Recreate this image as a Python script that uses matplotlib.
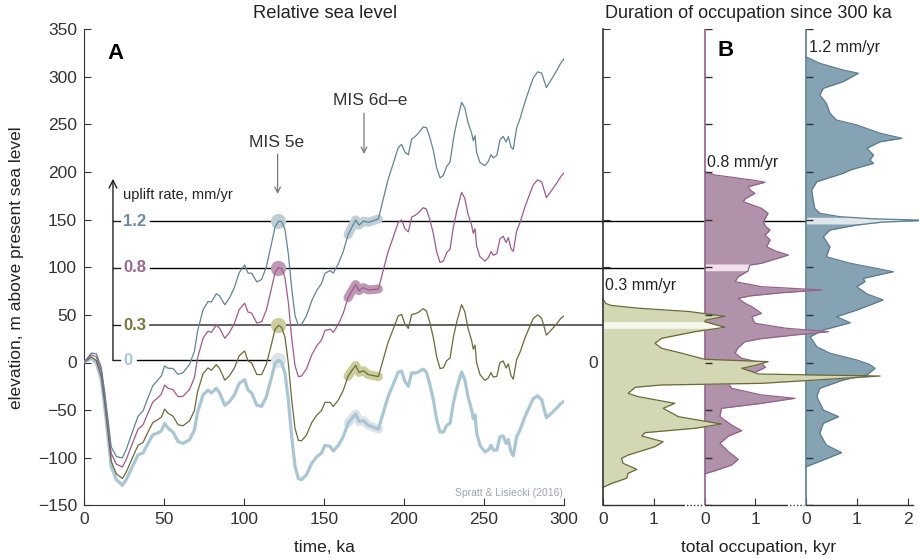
import numpy as np
import matplotlib
matplotlib.use("Agg")
import matplotlib.pyplot as plt

plt.rcParams['font.family'] = ['Liberation Sans', 'DejaVu Sans']

# ---------------- data ----------------
# Base relative sea level (Spratt & Lisiecki 2016), time in ka, elevation in m
sl_time = [0, 2, 4.6, 7.7, 10.8, 12.9, 15, 17, 20.2, 24, 26.4, 30.6, 33.8, 36.9, 40, 43, 46, 48.3,
           50.4, 52.5, 55.6, 58.8, 61.9, 66, 69, 71, 74.4, 77.5, 79.6, 82.7, 84.8, 88, 91, 94, 97,
           100.4, 102.5, 104.8, 108, 111, 114, 117.3, 119.4, 121.5, 123.5, 125.6, 127.7, 129.8,
           131.9, 134, 136, 139, 142.3, 145.4, 148.5, 150.6, 153.8, 155.8, 159, 162, 165, 167.3,
           169.8, 171.9, 174.6, 177.7, 180.8, 184, 187, 190, 193, 196.4, 198.5, 200.6, 202.7,
           204.8, 206.9, 209, 212, 214, 216, 218.3, 220.4, 222.5, 224.6, 226.7, 228.8, 230.8, 233,
           236, 238, 240, 242.3, 243.3, 244.4, 245.4, 247.5, 250.6, 252.7, 254.4, 255.8, 258, 260,
           262, 263.8, 265.2, 266.9, 268.3, 270.4, 272.5, 275.6, 278.8, 280.8, 283.5, 286, 289,
           292.3, 295.4, 298, 300]
sl_elev = [0.5, 2, 4.4, -0.2, -18, -46, -78, -109, -123, -129, -123, -108, -97, -95, -85, -76, -74, -72,
           -64, -69, -73, -83, -85, -81, -71, -52, -34, -29, -32, -27, -32, -45, -41, -34, -22,
           -18, -29, -32, -45, -46, -36, -15, -1, 2.5, 0, -11, -39, -78,
           -109, -122, -123, -118, -106, -99, -95, -87, -88, -93, -87, -78, -64, -59,
           -54, -62, -61, -66, -68, -70, -53, -36, -24, -10, -9, -20, -25,
           -11, -11, -10, -7, -10, -22, -39, -60, -73, -73, -66, -64, -43, -27,
           -10, -18, -36, -50, -59, -55, -74, -87, -94, -92, -87, -92, -92, -78,
           -77, -85, -81, -94, -98, -78, -71, -57, -45, -38, -35, -39, -58,
           -53, -48, -43, -41]

uplift_rates = [0, 0.3, 0.8, 1.2]           # mm/yr
rate_labels = {0: '0', 0.3: '0.3', 0.8: '0.8', 1.2: '1.2'}
mis5e_time = 121.5
mis6_window = (165, 184)

# Occupation profiles (elevation m, total occupation kyr)
occ03_elev = [66, 62, 60, 57, 53.5, 48.5, 44.5, 42.9, 37, 32.4, 25.4, 20.2, 14.9, 9.7, 3.4, 0.9,
              -3, -6.1, -9, -12.1, -14.2, -21.9, -23.6, -26, -32.4, -35.9, -42.9, -48.1, -56.9,
              -64.6, -69.1, -73.7, -77.2, -83.2, -88.4, -97.2, -100.6, -105.9, -112.2, -116.4,
              -121.6, -126.9, -131]
occ03_kyr = [0, 0.05, 0.15, 0.7, 1.7, 2.4, 2.02, 2.0, 2.4, 1.81, 1.15, 1.02, 1.15, 1.55, 2.0, 3.25,
             3.0, 2.73, 2.9, 3.06, 5.46, 3.12, 1.15, 0.63, 0.49, 0.69, 1.41, 1.18, 1.48,
             2.33, 1.81, 0.82, 0.76, 1.18, 1.02, 0.49, 0.36, 0.39, 0.66, 0.49,
             0.46, 0.17, 0]
occ08_elev = [200.4, 197, 191.7, 189.3, 184.7, 181, 177.7, 172, 168.9, 162, 156.7, 152, 147.9, 143,
              139.2, 133.9, 128.7, 121.6, 117, 112.9, 108, 104.2, 102.4, 96, 90.1, 84.9, 79.6,
              76.2, 73.3, 70, 67.4, 62, 58.6, 51.7, 48.1, 41.2, 36, 32.4, 28.9, 25, 21.8, 15, 9.7,
              4.4, 0, -5, -10, -16, -21.9, -27.1, -34.1, -37.6, -42.9, -48.1, -56.9, -65.7, -71.6,
              -77.2, -84.9, -93.7, -101.7, -107.7, -113.7, -117]
occ08_kyr = [0, 0.2, 0.93, 1.19, 0.86, 0.9, 0.99, 0.8, 0.76, 1.12, 1.25, 1.2, 1.16, 1.2,
             1.29, 1.19, 1.29, 1.22, 1.4, 1.65, 1.35, 1.12, 0.89, 0.85, 0.66, 0.6, 1.12,
             2.31, 1.52, 0.9, 0.66, 0.8, 0.93, 1.12, 0.93, 0.99, 1.6, 2.44, 1.78, 1.1, 0.79, 0.65, 0.6,
             0.73, 1.1, 1.2, 1.0, 0.8, 0.47, 0.53, 1.12, 1.78, 1.12, 0.33, 0.3, 0.53, 0.73,
             0.47, 0.3, 0.47, 0.66, 0.53, 0.2, 0]
occ12_elev = [321, 314.3, 307.2, 303.8, 295, 288, 281, 272.3, 261.8, 254.7, 249.5, 240.8, 235.5,
              231.9, 225, 218, 212.7, 209.2, 202.2, 198.7, 189.9, 181.2, 170.7, 162, 156.7, 153.2,
              151, 149.3, 147.5, 144.4, 139.2, 132.1, 121.6, 111.1, 104.2, 95.4, 88.4, 84.9, 79.6,
              72, 65.7, 55.1, 48.1, 41.8, 34.1, 27.1, 16.6, 9.7, 2.6, -2, -6.1, -13.1, -18.4,
              -27.1, -35.9, -49.9, -56.9, -63.9, -74.4, -86.7, -94.7, -102.4, -109.5]
occ12_kyr = [0, 0.27, 0.73, 1.03, 0.73, 0.34, 0.27, 0.4, 0.47, 0.6, 1.0, 1.46, 1.89,
             1.46, 1.2, 1.33, 1.26, 1.33, 0.87, 0.73, 0.21, 0.11, 0.14, 0.17, 0.27, 0.66,
             1.3, 2.4, 1.5, 1.0, 0.47, 0.34, 0.47, 0.4, 0.87, 1.72, 1.13, 1.16, 1.0,
             1.2, 1.52, 1.0, 0.6, 0.87, 0.34, 0.08, 0.21, 0.47, 1.0, 1.25, 1.36, 1.2, 0.73,
             0.27, 0.21, 0.34, 0.64, 0.34, 0.27, 0.4, 0.7, 0.34, 0]
band03 = (35.9, 42.9)
band08 = (96.4, 103.5)
band12 = (145.5, 152.5)

# ---------------- styles ----------------
line_colors = {0: '#a9c6d5', 0.3: '#6b6a36', 0.8: '#a0588e', 1.2: '#5f8499'}
label_colors = {0: '#a9c6d5', 0.3: '#76763f', 0.8: '#9a6890', 1.2: '#6a8ca1'}
hl_colors = {0: '#dfe4e8', 0.3: '#cbcd9c', 0.8: '#bd99b4', 1.2: '#c0ced6'}
fill_cols = {0.3: ('#d3d7b3', '#6b6a36', '#f7f8ec'),
             0.8: ('#b093aa', '#96608a', '#f1e1ed'),
             1.2: ('#85a3b3', '#5b7d91', '#e0e7eb')}
dark = '#333333'
txt = '#222222'

fig = plt.figure(figsize=(9.19, 5.59), dpi=100)
W, H = 919.0, 559.0
bot = (H - 505.3) / H
hgt = 476.0 / H
axA = fig.add_axes([84 / W, bot, 480 / W, hgt])
axB = fig.add_axes([603.3 / W, bot, 309.7 / W, hgt])
axB.set_facecolor('none')

t = np.array(sl_time)
e = np.array(sl_elev)

axA.set_xlim(0, 300)
axA.set_ylim(-150, 350)
axB.set_xlim(0, 309.7 / 50.7)
axB.set_ylim(-150, 350)

# ---------------- panel A ----------------
for r in uplift_rates:
    y = e + r * t
    lw = 2.3 if r == 0 else 0.9
    axA.plot(t, y, color=line_colors[r], lw=lw, zorder=3, solid_joinstyle='round')
    yp = np.interp(mis5e_time, t, e) + r * mis5e_time
    axA.plot([mis5e_time], [yp], 'o', ms=11, color=hl_colors[r], mec='none', zorder=2)
    m = (t >= mis6_window[0]) & (t <= mis6_window[1])
    tt = np.concatenate([[mis6_window[0]], t[m], [mis6_window[1]]])
    yy = np.interp(tt, t, e) + r * tt
    axA.plot(tt, yy, color=hl_colors[r], lw=6.5, solid_capstyle='round', zorder=2)

levels = {r: np.interp(mis5e_time, t, e) + r * mis5e_time for r in uplift_rates}
line_end_B = {1.2: 4.0, 0.8: 2.0, 0.3: 0.0}
for r in [0.3, 0.8, 1.2]:
    yv = levels[r]
    xb0 = axA.transData.inverted().transform(axB.transData.transform((0, yv)))[0]
    col = '#555555' if r == 0.3 else 'black'
    lw = 1.3 if r == 0.3 else 1.0
    axA.plot([41.25, xb0], [yv, yv], color=col, lw=lw, zorder=1, clip_on=False)
    if line_end_B[r] > 0:
        axB.plot([0, line_end_B[r]], [yv, yv], color=col, lw=lw, zorder=1)
axA.plot([33, 119], [levels[0], levels[0]], color='black', lw=1.0, zorder=1)

ax_x = 18.1
axA.annotate('', xy=(ax_x, 193), xytext=(ax_x, levels[0] - 0.5),
             arrowprops=dict(arrowstyle='->', lw=1.0, color=txt, shrinkA=0, shrinkB=0,
                             mutation_scale=14))
for r in uplift_rates:
    axA.plot([ax_x, 22.5], [levels[r], levels[r]], color=txt, lw=1.0)
    axA.text(24.4, levels[r], rate_labels[r], color=label_colors[r], fontsize=12,
             fontweight='bold', ha='left', va='center')
axA.text(24.4, 176, 'uplift rate, mm/yr', fontsize=10.5, color=txt, ha='left', va='center')

axA.text(120.6, 231.6, 'MIS 5e', fontsize=12.5, ha='center', va='center', color='#333333')
axA.annotate('', xy=(121, 177), xytext=(121, 219),
             arrowprops=dict(arrowstyle='->', lw=0.9, color='#777777', shrinkA=0, shrinkB=0))
axA.text(178.75, 274.7, 'MIS 6d\u2013e', fontsize=12.5, ha='center', va='center', color='#333333')
axA.annotate('', xy=(175, 219), xytext=(175, 262),
             arrowprops=dict(arrowstyle='->', lw=0.9, color='#777777', shrinkA=0, shrinkB=0))
axA.text(299, -137, 'Spratt & Lisiecki (2016)', fontsize=7.5, color='#9aa6b2', ha='right', va='center')
axA.text(0.048, 0.972, 'A', transform=axA.transAxes, fontsize=16, fontweight='bold', va='top', ha='left')

axA.spines['top'].set_visible(False)
axA.spines['right'].set_visible(False)
for s in ['left', 'bottom']:
    axA.spines[s].set_color(dark)
axA.set_xticks(np.arange(0, 301, 50))
axA.set_yticks(np.arange(-150, 351, 50))
axA.tick_params(direction='in', length=5, colors=dark, labelsize=12.5, pad=5)
axA.set_xlabel('time, ka', fontsize=12.5, color=txt, labelpad=9)
axA.set_ylabel('elevation, m above present sea level', fontsize=12.5, color=txt, labelpad=10)

# ---------------- panel B ----------------
profiles = [(1.2, 4.0, occ12_elev, occ12_kyr, band12),
            (0.8, 2.0, occ08_elev, occ08_kyr, band08),
            (0.3, 0.0, occ03_elev, occ03_kyr, band03)]
z = 3
for r, off, pe, pk, band in profiles:
    fc, ec, bc = fill_cols[r]
    pe = np.array(pe)
    pk = np.array(pk)
    axB.fill_betweenx(pe, off, off + pk, color=fc, lw=0, zorder=z, clip_on=False)
    be = np.linspace(band[0], band[1], 40)
    bk = np.interp(be, pe[::-1], pk[::-1])
    axB.fill_betweenx(be, off, off + bk, color=bc, lw=0, zorder=z + 0.1, clip_on=False)
    axB.plot(off + pk, pe, color=ec, lw=0.9, zorder=z + 0.2, clip_on=False)
    if off > 0:
        axB.axvline(off, color=ec, lw=1.2, zorder=z + 0.3)
    z += 1

yt = np.arange(-150, 351, 50)
for off in [2.0, 4.0]:
    axB.plot([off] * len(yt), yt, ls='none', marker=1, ms=5, mew=1.0, color=dark, zorder=10)

axB.spines['top'].set_visible(False)
axB.spines['right'].set_visible(False)
axB.spines['bottom'].set_visible(False)
axB.spines['left'].set_color(dark)
axB.spines['left'].set_linewidth(1.2)
axB.spines['left'].set_zorder(9)
axB.set_yticks(yt)
axB.set_yticklabels(['0' if v == 0 else '' for v in yt])
axB.set_xticks([0, 1, 2, 3, 4, 5, 6])
axB.set_xticklabels(['0', '1', '0', '1', '0', '1', '2'])
axB.tick_params(direction='in', length=5, colors=dark, labelsize=12.5, pad=5)
axB.tick_params(axis='y', pad=4)
trans = axB.get_xaxis_transform()
for a, b in [(0, 1.58), (2, 3.6), (4, 6.1)]:
    axB.plot([a, b], [0, 0], color=dark, lw=1.0, transform=trans, clip_on=False, zorder=10)
for a, b in [(1.58, 1.96), (3.6, 3.96)]:
    axB.plot([a, b], [0, 0], color=dark, lw=1.0, ls=(0, (1, 1.5)), transform=trans,
             clip_on=False, zorder=10)
axB.set_xlabel('total occupation, kyr', fontsize=12.5, color=txt, labelpad=9)

axB.text(0.37, 0.978, 'B', transform=axB.transAxes, fontsize=16, fontweight='bold', va='top', ha='left')
axB.text(4.05, 331, '1.2 mm/yr', fontsize=11.5, ha='left', va='center', color=txt, zorder=12)
axB.text(2.05, 210, '0.8 mm/yr', fontsize=11.5, ha='left', va='center', color=txt, zorder=12)
axB.text(0.03, 81, '0.3 mm/yr', fontsize=11.5, ha='left', va='center', color=txt, zorder=12)

fig.text(0.354, 0.975, 'Relative sea level', fontsize=13.2, ha='center', va='center', color=txt)
fig.text(0.814, 0.975, 'Duration of occupation since 300 ka', fontsize=13, ha='center',
         va='center', color=txt)

fig.savefig('out.png', dpi=100)
